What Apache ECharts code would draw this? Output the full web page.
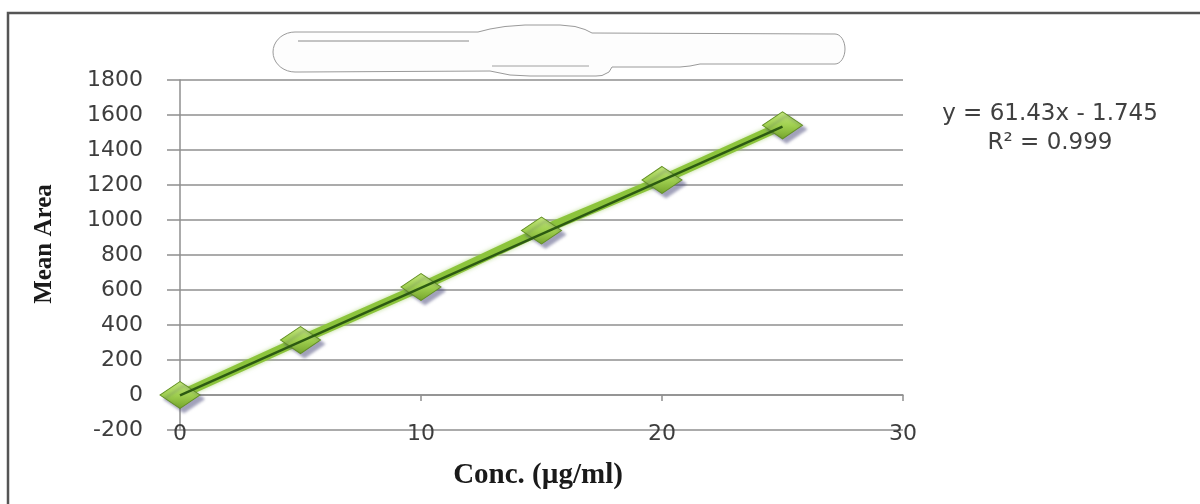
<!DOCTYPE html>
<html>
<head>
<meta charset="utf-8">
<script src="https://cdn.jsdelivr.net/npm/echarts@6/dist/echarts.min.js"></script>
<style>
  html, body { margin: 0; padding: 0; background: #ffffff; }
  #chart { width: 1200px; height: 504px; }
</style>
</head>
<body>
<div id="chart"></div>
<script>
// ---- data ----
const concentrations = [0, 5, 10, 15, 20, 25];          // Conc. (µg/ml)
const meanAreas      = [0, 314, 617, 940, 1229, 1541];  // Mean Area
const trendSlope     = 61.43;
const trendIntercept = -1.745;
const rSquared       = 0.999;
const xTicks = [0, 10, 20, 30];
const yTicks = [-200, 0, 200, 400, 600, 800, 1000, 1200, 1400, 1600, 1800];
const xTitle = 'Conc. (µg/ml)';
const yTitle = 'Mean Area';

const points = concentrations.map((c, i) => [c, meanAreas[i]]);
const trendX = [concentrations[0], concentrations[concentrations.length - 1]];
const trendPoints = trendX.map(x => [x, trendSlope * x + trendIntercept]);
const eqText = 'y = ' + trendSlope + 'x - ' + Math.abs(trendIntercept);
const r2Text = 'R\u00B2 = ' + rSquared;

// decorative outline of the blanked title box
function arcPts(cx, cy, rx, ry, a0, a1, n) {
  const out = [];
  for (let i = 0; i <= n; i++) {
    const a = (a0 + (a1 - a0) * i / n) * Math.PI / 180;
    out.push([cx + rx * Math.cos(a), cy + ry * Math.sin(a)]);
  }
  return out;
}
const boxOutline = [].concat(
  [[295, 32], [478, 32], [490, 29], [505, 26.5], [525, 25], [560, 25], [575, 26.5], [585, 29.5], [592, 33], [835, 34]],
  arcPts(835, 49, 10, 15, -90, 90, 16),
  [[700, 64], [690, 66], [680, 67], [612, 67], [609, 72], [602, 75.5], [596, 76], [530, 76], [510, 75], [490, 71], [300, 72]],
  arcPts(295, 52, 22, 20, 90, 270, 18)
);

const gridColor = '#8f8f8f';
const chart = echarts.init(document.getElementById('chart'), null, { renderer: 'canvas' });

chart.setOption({
  backgroundColor: '#ffffff',
  animation: false,
  grid: { left: 180, right: 297, top: 80, bottom: 74 },
  xAxis: {
    type: 'value',
    min: xTicks[0], max: xTicks[xTicks.length - 1], interval: 10,
    axisLine: { show: true, onZero: true, lineStyle: { color: gridColor, width: 1.5 } },
    axisTick: { show: true, length: 6, lineStyle: { color: gridColor, width: 1.5 } },
    axisLabel: { margin: -7, fontFamily: 'DejaVu Sans', fontSize: 22, color: '#3d3d3d',
                 formatter: v => String(v) },
    splitLine: { show: false }
  },
  yAxis: {
    type: 'value',
    min: yTicks[0], max: yTicks[yTicks.length - 1], interval: 200,
    axisLine: { show: true, onZero: false, lineStyle: { color: gridColor, width: 1.5 } },
    axisTick: { show: true, length: 13, lineStyle: { color: gridColor, width: 1.5 } },
    axisLabel: { margin: 37, fontFamily: 'DejaVu Sans', fontSize: 22, color: '#3d3d3d',
                 formatter: v => String(v) },
    splitLine: { show: true, lineStyle: { color: gridColor, width: 1.5 } }
  },
  series: [
    {
      type: 'line',
      data: points,
      z: 3,
      symbol: 'diamond',
      symbolSize: [40, 27],
      lineStyle: {
        color: '#8cc43c', width: 9,
        shadowColor: 'rgba(160,205,100,0.7)', shadowBlur: 4
      },
      itemStyle: {
        color: {
          type: 'linear', x: 0, y: 0, x2: 0, y2: 1,
          colorStops: [
            { offset: 0, color: '#c2e47e' },
            { offset: 0.5, color: '#a0d050' },
            { offset: 1, color: '#74a42c' }
          ]
        },
        borderColor: '#628f22', borderWidth: 1,
        shadowColor: 'rgba(70,70,120,0.5)', shadowBlur: 3,
        shadowOffsetX: 4, shadowOffsetY: 4
      },
      emphasis: { disabled: true }
    },
    {
      type: 'line',
      data: trendPoints,
      z: 4,
      symbol: 'none',
      lineStyle: { color: '#2c5a12', width: 2.5 },
      emphasis: { disabled: true }
    }
  ],
  graphic: [
    { type: 'polyline', z: 10,
      shape: { points: [[8, 510], [8, 13], [1210, 13]] },
      style: { stroke: '#555555', lineWidth: 2.5, fill: null } },
    { type: 'polygon', z: 10,
      shape: { points: boxOutline },
      style: { stroke: '#9a9a9a', lineWidth: 1, fill: '#fdfdfd' } },
    { type: 'line', z: 11, shape: { x1: 298, y1: 41, x2: 469, y2: 41 },
      style: { stroke: '#8a8a8a', lineWidth: 1 } },
    { type: 'line', z: 11, shape: { x1: 492, y1: 66, x2: 589, y2: 66 },
      style: { stroke: '#a0a0a0', lineWidth: 1 } },
    { type: 'text', z: 10, x: 1050, y: 114,
      style: { text: eqText, align: 'center', verticalAlign: 'middle',
               fontFamily: 'DejaVu Sans', fontSize: 23, fill: '#404040' } },
    { type: 'text', z: 10, x: 1050, y: 143,
      style: { text: r2Text, align: 'center', verticalAlign: 'middle',
               fontFamily: 'DejaVu Sans', fontSize: 23, fill: '#404040' } },
    { type: 'text', z: 10, x: 45, y: 244, rotation: Math.PI / 2,
      style: { text: yTitle, align: 'center', verticalAlign: 'middle',
               fontFamily: 'Liberation Serif', fontWeight: 'bold', fontSize: 25, fill: '#1a1a1a' } },
    { type: 'text', z: 10, x: 538, y: 476,
      style: { text: xTitle, align: 'center', verticalAlign: 'middle',
               fontFamily: 'Liberation Serif', fontWeight: 'bold', fontSize: 29, fill: '#1a1a1a' } }
  ]
});
</script>
</body>
</html>
